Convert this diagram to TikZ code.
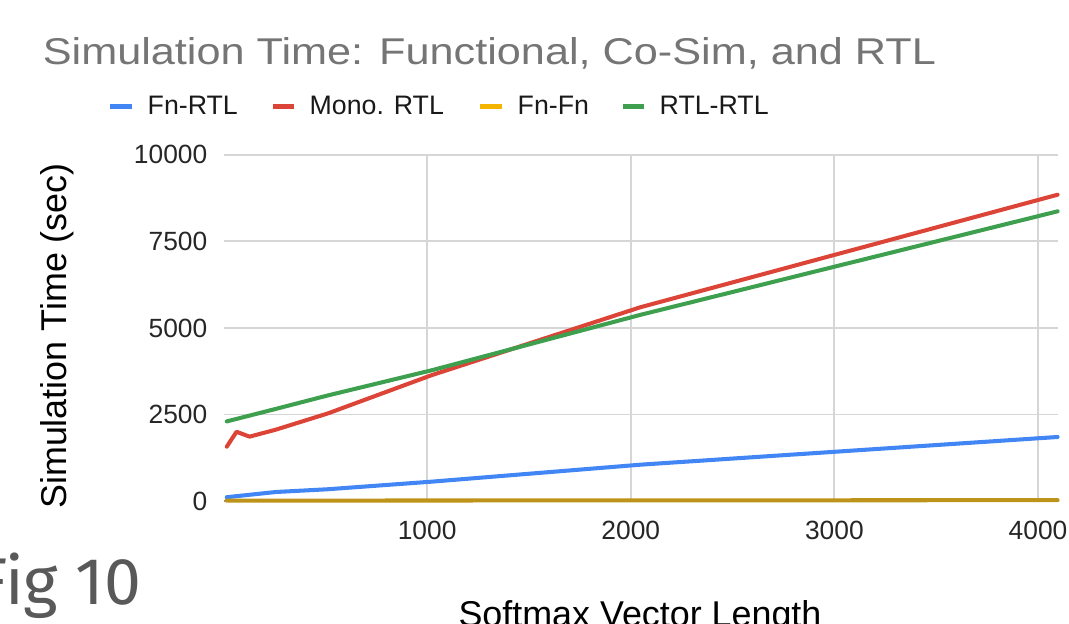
\documentclass[tikz,border=0pt]{standalone}
\usepackage{fontspec}
\setmainfont{Liberation Sans}
\newfontfamily\figfont{Fira Sans}
\definecolor{fnrtl}{HTML}{4285F4}
\definecolor{monortl}{HTML}{DB4437}
\definecolor{fnfn}{HTML}{F4B400}
\definecolor{rtlrtl}{HTML}{3EA04F}
\definecolor{gridgray}{HTML}{D6D6D6}
\definecolor{titlegray}{HTML}{757575}
\begin{document}
\begin{tikzpicture}[x=0.01cm, y=-0.01cm,
    series/.style={line width=1.15pt, line join=round, line cap=round},
    ticklabel/.style={font=\fontsize{7.5}{9}\selectfont, text=black!85, inner sep=0pt},
    legtext/.style={font=\fontsize{7.6}{9}\selectfont, text=black!90, anchor=base west, inner sep=0pt},
    legmark/.style={fill=#1}]
  \useasboundingbox (0,0) rectangle (1069,623);
  \clip (0,0) rectangle (1069,623);

  \node[anchor=base west, inner sep=0pt, text=titlegray, xscale=1.16,
        font=\fontsize{10.6}{13}\selectfont] (title) at (42,64.5)
        {Simulation Time: Functional, Co-Sim, and RTL};

  % legend
  \fill[legmark=fnrtl] (110,104) rectangle (132,109);
  \node[legtext] (leg-fnrtl) at (147,114) {Fn-RTL};
  \fill[legmark=monortl] (273,104) rectangle (294,109);
  \node[legtext] (leg-monortl) at (309,114) {Mono. RTL};
  \fill[legmark=fnfn] (480,104) rectangle (502,109);
  \node[legtext] (leg-fnfn) at (517,114) {Fn-Fn};
  \fill[legmark=rtlrtl] (623,104) rectangle (644,109);
  \node[legtext] (leg-rtlrtl) at (659,114) {RTL-RTL};

  % plot area, data units (pt, so TeX keeps the precision)
  \begin{scope}[shift={(223.5,501)}, x=0.05790pt, y=0.009845pt]
    \foreach \v in {2500,5000,7500,10000}
      \draw[gridgray, line width=0.55pt] (0,\v) -- (4096,\v);
    \foreach \u in {1000,2000,3000,4000}
      \draw[gridgray, line width=0.55pt] (\u,0) -- (\u,10000);
    \draw[black!45, line width=0.55pt] (0,0) -- (4096,0);

    \foreach \v in {0,2500,5000,7500,10000}
      \node[ticklabel, anchor=east] (ytick-\v) at (0,\v) [xshift=-0.155cm] {\v};
    \foreach \u in {1000,2000,3000,4000}
      \node[ticklabel, anchor=north] (xtick-\u) at (\u,0) [yshift=-0.19cm] {\u};

    \draw[series, fnrtl] plot coordinates {(16,110) (256,260) (512,340)
      (1024,560) (2048,1050) (4096,1850)};
    \draw[series, monortl] plot coordinates {(16,1570) (64,2000) (128,1860)
      (256,2060) (512,2530) (1024,3640) (2048,5600) (4096,8850)};
    \draw[series, fnfn!75!black!90] plot coordinates {(16,12) (1024,15)
      (2048,18) (4096,25)};
    \draw[series, rtlrtl] plot coordinates {(16,2300) (256,2660) (512,3050)
      (1024,3780) (2048,5380) (4096,8370)};
  \end{scope}

  \node[rotate=90, inner sep=0pt, font=\fontsize{10.2}{12}\selectfont] (ylabel)
        at (57,336) {Simulation Time (sec)};
  \node[anchor=base, inner sep=0pt, font=\fontsize{10.2}{12}\selectfont] (xlabel)
        at (640,626) {Softmax Vector Length};
  \node[anchor=base east, inner sep=0pt, text=black!65,
        font=\figfont\fontsize{18.8}{20}\selectfont] (figlabel) at (142,604) {Fig 10};
\end{tikzpicture}
\end{document}
